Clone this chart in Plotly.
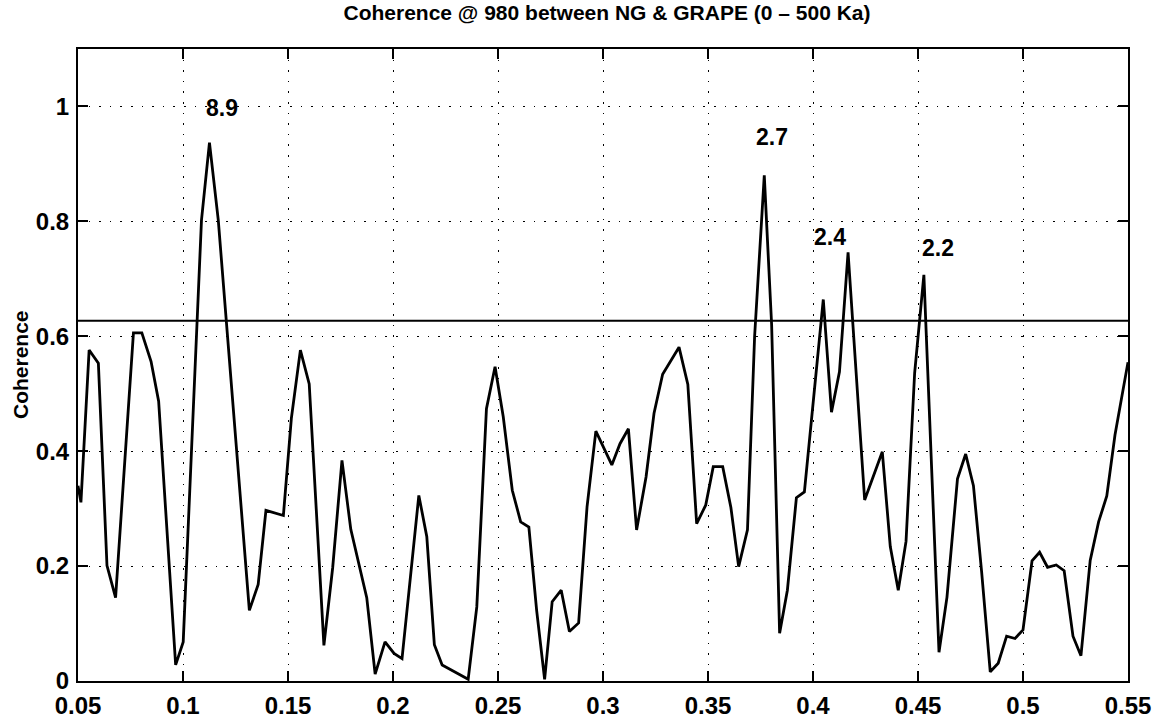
import plotly.graph_objects as go

# Frequency (cycles/ka) and coherence values
freq = [0.0500, 0.0514, 0.0553, 0.0597, 0.0638, 0.0679, 0.0764, 0.0804, 0.0848, 0.0884,
        0.0965, 0.1001, 0.1088, 0.1126, 0.1168, 0.1316, 0.1358, 0.1395, 0.1478, 0.1516,
        0.1559, 0.1601, 0.1671, 0.1713, 0.1757, 0.1799, 0.1875, 0.1915, 0.1962, 0.2005,
        0.2043, 0.2085, 0.2123, 0.2161, 0.2197, 0.2234, 0.2358, 0.2399, 0.2445, 0.2486,
        0.2525, 0.2568, 0.2608, 0.2647, 0.2684, 0.2722, 0.2758, 0.2801, 0.2840, 0.2884,
        0.2924, 0.2966, 0.3042, 0.3081, 0.3121, 0.3160, 0.3205, 0.3243, 0.3284, 0.3362,
        0.3404, 0.3446, 0.3489, 0.3525, 0.3570, 0.3609, 0.3646, 0.3688, 0.3722, 0.3768,
        0.3803, 0.3841, 0.3878, 0.3921, 0.3959, 0.4049, 0.4088, 0.4126, 0.4167, 0.4246,
        0.4330, 0.4368, 0.4406, 0.4443, 0.4484, 0.4528, 0.4600, 0.4638, 0.4688, 0.4727,
        0.4764, 0.4803, 0.4844, 0.4882, 0.4922, 0.4962, 0.5000, 0.5043, 0.5079, 0.5117,
        0.5158, 0.5196, 0.5238, 0.5276, 0.5320, 0.5360, 0.5399, 0.5438, 0.5500]
coherence = [0.340, 0.311, 0.576, 0.553, 0.201, 0.145, 0.606, 0.606, 0.556, 0.487,
             0.028, 0.068, 0.802, 0.937, 0.802, 0.123, 0.168, 0.297, 0.288, 0.457,
             0.576, 0.517, 0.062, 0.198, 0.384, 0.264, 0.145, 0.012, 0.068, 0.048,
             0.039, 0.190, 0.323, 0.251, 0.063, 0.028, 0.003, 0.129, 0.474, 0.547,
             0.460, 0.332, 0.277, 0.268, 0.123, 0.003, 0.138, 0.158, 0.086, 0.101,
             0.303, 0.435, 0.376, 0.413, 0.439, 0.263, 0.355, 0.466, 0.534, 0.581,
             0.516, 0.274, 0.306, 0.373, 0.373, 0.302, 0.199, 0.263, 0.600, 0.880,
             0.620, 0.083, 0.158, 0.319, 0.329, 0.664, 0.468, 0.538, 0.746, 0.315,
             0.399, 0.234, 0.158, 0.243, 0.536, 0.707, 0.050, 0.146, 0.352, 0.395,
             0.340, 0.190, 0.016, 0.031, 0.078, 0.074, 0.089, 0.209, 0.224, 0.198,
             0.202, 0.192, 0.078, 0.044, 0.210, 0.277, 0.322, 0.428, 0.555]

significance = 0.627

peak_labels = ["8.9", "2.7", "2.4", "2.2"]
peak_label_x = [0.1186, 0.3805, 0.4083, 0.4593]
peak_label_y = [0.998, 0.946, 0.772, 0.753]

x_ticks = [0.05, 0.1, 0.15, 0.2, 0.25, 0.3, 0.35, 0.4, 0.45, 0.5, 0.55]
x_tick_text = ["0.05", "0.1", "0.15", "0.2", "0.25", "0.3", "0.35", "0.4", "0.45", "0.5", "0.55"]
y_ticks = [0, 0.2, 0.4, 0.6, 0.8, 1.0]
y_tick_text = ["0", "0.2", "0.4", "0.6", "0.8", "1"]

FONT = "Liberation Sans, Arial, Helvetica, sans-serif"

fig = go.Figure()
fig.add_trace(go.Scatter(x=freq, y=coherence, mode="lines",
                         line=dict(color="black", width=2.8), showlegend=False,
                         hoverinfo="skip"))
fig.add_trace(go.Scatter(x=[x_ticks[0], x_ticks[-1]], y=[significance, significance],
                         mode="lines", line=dict(color="black", width=2.2),
                         showlegend=False, hoverinfo="skip"))

for t, xx, yy in zip(peak_labels, peak_label_x, peak_label_y):
    fig.add_annotation(x=xx, y=yy, text="<b>%s</b>" % t, showarrow=False, xref="x", yref="y",
                       xanchor="center", yanchor="middle",
                       font=dict(family=FONT, size=23, color="black"))

fig.add_annotation(text="<b>Coherence</b>", textangle=-90, showarrow=False,
                   xref="paper", yref="paper", x=(20 - 78) / 1050, y=0.5,
                   xanchor="center", yanchor="middle",
                   font=dict(family=FONT, size=21, color="black"))

axis_common = dict(showline=True, linecolor="black", linewidth=2, mirror="ticks",
                   ticks="inside", ticklen=10, tickwidth=2, tickcolor="black",
                   showgrid=True, gridcolor="black", gridwidth=1.4,
                   griddash="1.6px,9px", zeroline=False, automargin=False,
                   tickfont=dict(family=FONT, size=24, color="black", weight="bold"))

fig.update_xaxes(range=[0.05, 0.55], tickvals=x_ticks, ticktext=x_tick_text,
                 ticklabelstandoff=2, **axis_common)
fig.update_yaxes(range=[0, 1.1], tickvals=y_ticks, ticktext=y_tick_text,
                 ticklabelstandoff=2, **axis_common)

fig.update_layout(
    width=1161, height=720,
    margin=dict(l=78, r=33, t=49, b=39, autoexpand=False),
    paper_bgcolor="white", plot_bgcolor="white",
    title=dict(text="<b>Coherence @ 980 between NG & GRAPE (0 \u2013 500 Ka)</b>",
               x=607 / 1161, xref="container", xanchor="center",
               y=1 - 13 / 720, yref="container", yanchor="middle",
               font=dict(family=FONT, size=21, color="black")),
)

fig.write_html("out.html")
